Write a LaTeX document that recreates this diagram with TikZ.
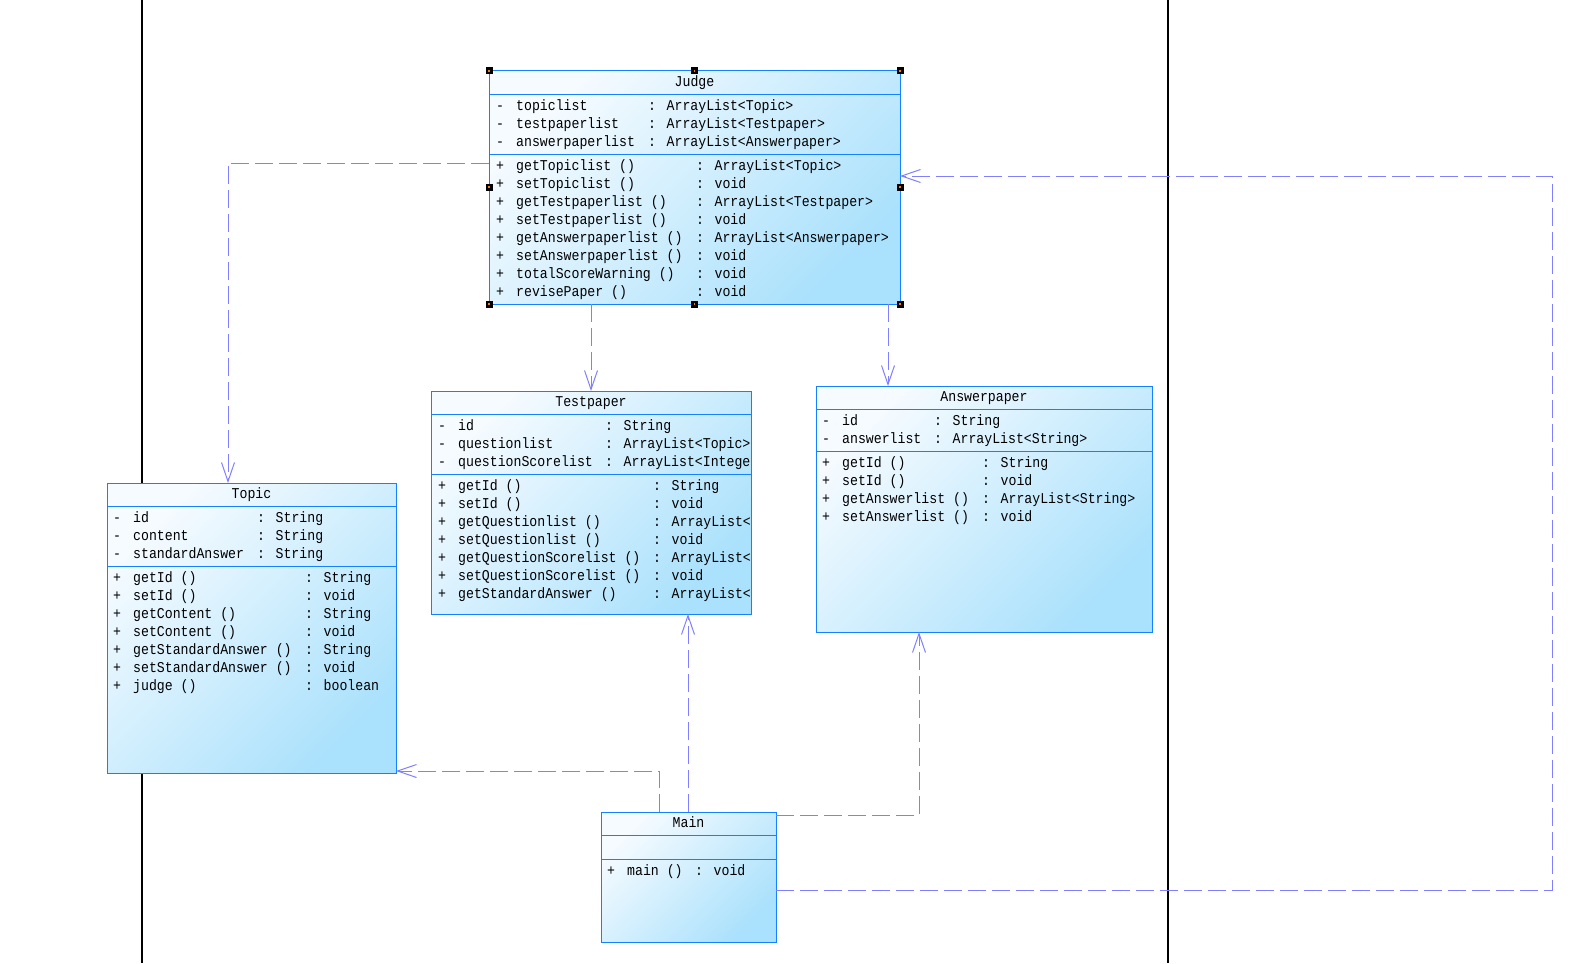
\documentclass[tikz,border=0pt]{standalone}
\usepackage{fontspec}
\usepackage{tikz}
\usetikzlibrary{arrows.meta,positioning}
\newfontfamily\umlfont[FakeStretch=0.88]{Liberation Mono}
\definecolor{umlblue}{RGB}{20,130,255}
\definecolor{umltop}{RGB}{246,251,255}
\definecolor{umlbottom}{RGB}{170,225,252}
\definecolor{deplink}{RGB}{128,128,255}

\begin{document}
\begin{tikzpicture}[x=1pt,y=-1pt,
    umlclass/.style={rectangle,draw=umlblue,line width=1pt,top color=umltop,bottom color=umlbottom,shading angle=45,anchor=north west,inner sep=0pt,outer sep=0pt},
    umltitle/.style={anchor=base,inner sep=0pt,font=\umlfont\fontsize{15}{18}\selectfont},
    members/.style={anchor=north west,inner sep=0pt,font=\umlfont\fontsize{15}{18}\selectfont},
    umlsep/.style={draw=umlblue,line width=1pt},
    dep/.style={draw=deplink,line width=1pt,dash pattern=on 18pt off 6pt,-{Straight Barb[length=19pt,width=13pt]}}]
      \fill[white] (0,0) rectangle (1570,963);
      \useasboundingbox (0,0) rectangle (1570,963);
      % lanes
      \draw[line width=1.3pt] (142,0) -- (142,963);
      \draw[line width=1.3pt] (1168,0) -- (1168,963);

      % Judge
      \node[umlclass,minimum width=411pt,minimum height=233pt] (judge) at (489,71) {};
      \node[umltitle] (judgeTitle) at (694.5,87) {Judge};
      \draw[umlsep] (judge.west |- 0,94.5) -- (judge.east |- 0,94.5);
      \draw[umlsep] (judge.west |- 0,154.5) -- (judge.east |- 0,154.5);
      \node[members] (judgeAttr) at (496,98) {\begin{tabular}{@{}p{20pt}@{}p{132pt}@{}l@{}}
        - & topiclist & : ArrayList<Topic>\\
        - & testpaperlist & : ArrayList<Testpaper>\\
        - & answerpaperlist & : ArrayList<Answerpaper>
      \end{tabular}};
      \node[members] (judgeOps) at (496,158) {\begin{tabular}{@{}p{20pt}@{}p{180pt}@{}l@{}}
        + & getTopiclist () & : ArrayList<Topic>\\
        + & setTopiclist () & : void\\
        + & getTestpaperlist () & : ArrayList<Testpaper>\\
        + & setTestpaperlist () & : void\\
        + & getAnswerpaperlist () & : ArrayList<Answerpaper>\\
        + & setAnswerpaperlist () & : void\\
        + & totalScoreWarning () & : void\\
        + & revisePaper () & : void
      \end{tabular}};

      % Testpaper
      \node[umlclass,minimum width=320pt,minimum height=223pt] (testpaper) at (431,391) {};
      \node[umltitle] (testpaperTitle) at (591,406.6) {Testpaper};
      \draw[umlsep] (testpaper.west |- 0,414.5) -- (testpaper.east |- 0,414.5);
      \draw[umlsep] (testpaper.west |- 0,474.5) -- (testpaper.east |- 0,474.5);
      \node[members] (testpaperAttr) at (438,418) {\begin{tabular}{@{}p{20pt}@{}p{147pt}@{}l@{}}
        - & id & : String\\
        - & questionlist & : ArrayList<Topic>\\
        - & questionScorelist & : ArrayList<Intege
      \end{tabular}};
      \node[members] (testpaperOps) at (438,478) {\begin{tabular}{@{}p{20pt}@{}p{195pt}@{}l@{}}
        + & getId () & : String\\
        + & setId () & : void\\
        + & getQuestionlist () & : ArrayList<\\
        + & setQuestionlist () & : void\\
        + & getQuestionScorelist () & : ArrayList<\\
        + & setQuestionScorelist () & : void\\
        + & getStandardAnswer () & : ArrayList<
      \end{tabular}};

      % Answerpaper
      \node[umlclass,minimum width=336pt,minimum height=246pt] (answerpaper) at (816,386) {};
      \node[umltitle] (answerpaperTitle) at (984,401.6) {Answerpaper};
      \draw[umlsep] (answerpaper.west |- 0,409.5) -- (answerpaper.east |- 0,409.5);
      \draw[umlsep] (answerpaper.west |- 0,451.5) -- (answerpaper.east |- 0,451.5);
      \node[members] (answerpaperAttr) at (822,413) {\begin{tabular}{@{}p{20pt}@{}p{92pt}@{}l@{}}
        - & id & : String\\
        - & answerlist & : ArrayList<String>
      \end{tabular}};
      \node[members] (answerpaperOps) at (822,455) {\begin{tabular}{@{}p{20pt}@{}p{140pt}@{}l@{}}
        + & getId () & : String\\
        + & setId () & : void\\
        + & getAnswerlist () & : ArrayList<String>\\
        + & setAnswerlist () & : void
      \end{tabular}};

      % Topic
      \node[umlclass,minimum width=289pt,minimum height=290pt] (topic) at (107,483) {};
      \node[umltitle] (topicTitle) at (251.5,498.6) {Topic};
      \draw[umlsep] (topic.west |- 0,506.5) -- (topic.east |- 0,506.5);
      \draw[umlsep] (topic.west |- 0,566.5) -- (topic.east |- 0,566.5);
      \node[members] (topicAttr) at (113,510) {\begin{tabular}{@{}p{20pt}@{}p{124pt}@{}l@{}}
        - & id & : String\\
        - & content & : String\\
        - & standardAnswer & : String
      \end{tabular}};
      \node[members] (topicOps) at (113,570) {\begin{tabular}{@{}p{20pt}@{}p{172pt}@{}l@{}}
        + & getId () & : String\\
        + & setId () & : void\\
        + & getContent () & : String\\
        + & setContent () & : void\\
        + & getStandardAnswer () & : String\\
        + & setStandardAnswer () & : void\\
        + & judge () & : boolean
      \end{tabular}};

      % Main
      \node[umlclass,minimum width=175pt,minimum height=130pt] (main) at (601,812) {};
      \node[umltitle] (mainTitle) at (688.5,827.4) {Main};
      \draw[umlsep] (main.west |- 0,835.5) -- (main.east |- 0,835.5);
      \draw[umlsep] (main.west |- 0,859.5) -- (main.east |- 0,859.5);
      \node[members] (mainOps) at (607,863) {\begin{tabular}{@{}p{20pt}@{}p{68pt}@{}l@{}}
        + & main () & : void
      \end{tabular}};

      % selection handles
      \foreach \hx/\hy in {489/71,694.5/71,900/71,489/187,900/187,489/304,694.5/304,900/304}
        {\fill[black] (\hx,\hy) +(-3.5,-3.5) rectangle +(3.5,3.5);
         \fill[orange] (\hx,\hy) +(-0.6,-0.6) rectangle +(0.6,0.6);}

      % dependencies
      \draw[dep] (judge.west |- 0,163) -| (228,0 |- topic.north);
      \draw[dep] (591,0 |- judge.south) -- (591,0 |- testpaper.north);
      \draw[dep] (888,0 |- judge.south) -- (888,0 |- answerpaper.north);
      \draw[dep] (659,0 |- main.north) |- (topic.east |- 0,771);
      \draw[dep] (688,0 |- main.north) -- (688,0 |- testpaper.south);
      \draw[dep] (main.east |- 0,815) -| (919,0 |- answerpaper.south);
      \draw[dep] (main.east |- 0,890) -| (1552,176) -- (judge.east |- 0,176);
\end{tikzpicture}
\end{document}
